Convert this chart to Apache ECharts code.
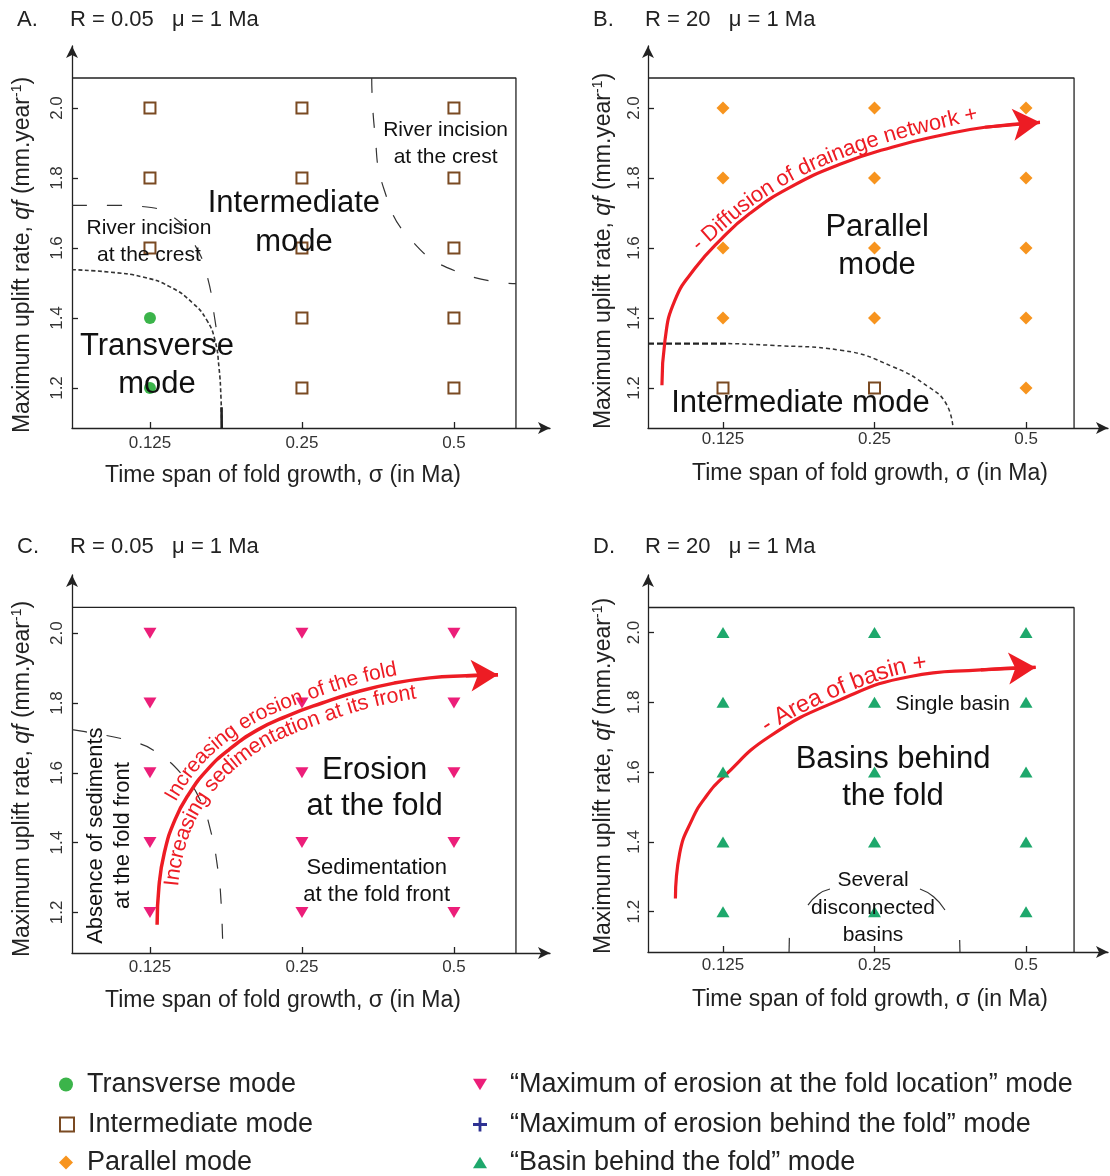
<!DOCTYPE html>
<html><head><meta charset="utf-8">
<script src="https://cdn.jsdelivr.net/npm/echarts@6/dist/echarts.min.js"></script>
<style>html,body{margin:0;padding:0;background:#fff}#c{width:1110px;height:1176px}</style>
</head><body><div id="c"></div>
<script>
// ---------------- DATA ----------------
const sigmaTicks = ['0.125', '0.25', '0.5'];          // time span of fold growth (Ma)
const upliftTicks = [1.2, 1.4, 1.6, 1.8, 2.0];          // max uplift rate (mm/yr)

// Panel A (R = 0.05)
const transverseA = [['0.125', 1.4], ['0.125', 1.2]];
const intermediateA = [['0.125', 2.0], ['0.125', 1.8], ['0.125', 1.6],
  ['0.25', 2.0], ['0.25', 1.8], ['0.25', 1.6], ['0.25', 1.4], ['0.25', 1.2],
  ['0.5', 2.0], ['0.5', 1.8], ['0.5', 1.6], ['0.5', 1.4], ['0.5', 1.2]];
// Panel B (R = 20)
const parallelB = [['0.125', 2.0], ['0.125', 1.8], ['0.125', 1.6], ['0.125', 1.4],
  ['0.25', 2.0], ['0.25', 1.8], ['0.25', 1.6], ['0.25', 1.4],
  ['0.5', 2.0], ['0.5', 1.8], ['0.5', 1.6], ['0.5', 1.4], ['0.5', 1.2]];
const intermediateB = [['0.125', 1.2], ['0.25', 1.2]];
// Panel C (R = 0.05)
const erosionFoldC = [['0.125', 2.0], ['0.125', 1.8], ['0.125', 1.6], ['0.125', 1.4], ['0.125', 1.2],
  ['0.25', 2.0], ['0.25', 1.8], ['0.25', 1.6], ['0.25', 1.4], ['0.25', 1.2],
  ['0.5', 2.0], ['0.5', 1.8], ['0.5', 1.6], ['0.5', 1.4], ['0.5', 1.2]];
// Panel D (R = 20)
const basinBehindD = [['0.125', 2.0], ['0.125', 1.8], ['0.125', 1.6], ['0.125', 1.4], ['0.125', 1.2],
  ['0.25', 2.0], ['0.25', 1.8], ['0.25', 1.6], ['0.25', 1.4], ['0.25', 1.2],
  ['0.5', 2.0], ['0.5', 1.8], ['0.5', 1.6], ['0.5', 1.4], ['0.5', 1.2]];
const erosionBehind = [];

// Domain boundaries (x in sigma-tick index units, y in mm/yr)
const boundA_dotted = [[-0.513,1.538],[-0.263,1.531],[-0.046,1.517],[0.132,1.489],[0.283,1.442],[0.375,1.393],[0.428,1.336],[0.454,1.259],[0.467,1.174],[0.472,1.0857]];
const boundA_foot = [[0.471,1.145],[0.472,1.0857]];
const boundA_left = [[-0.513,1.722],[-0.243,1.722],[-0.066,1.719],[0.164,1.685],[0.296,1.608],[0.375,1.522],[0.428,1.393],[0.454,1.307]];
const boundA_right = [[1.459,2.0857],[1.478,1.936],[1.542,1.765],[1.72,1.622],[2.028,1.531],[2.408,1.498]];
const boundB_thick = [[-0.495,1.327],[0.035,1.327]];
const boundB_dotted = [[0.035,1.327],[0.313,1.322],[0.777,1.308],[1.125,1.26],[1.357,1.203],[1.473,1.155],[1.518,1.0857]];
const boundC = [[-0.513,1.724],[-0.428,1.718],[-0.112,1.689],[0.046,1.658],[0.230,1.586],[0.329,1.523],[0.401,1.431],[0.447,1.322],[0.467,1.236],[0.480,1.0837]];
const boundD_segs = [
  [[0.436,1.0845],[0.438,1.125]],
  [[0.561,1.219],[0.63,1.25],[0.706,1.265]],
  [[1.30,1.265],[1.39,1.243],[1.465,1.205]],
  [[1.562,1.119],[1.564,1.0845]]
];
// Trend arrows (last point = arrow tip)
const arrowB = [[-0.403,1.208],[-0.383,1.336],[-0.317,1.451],[-0.185,1.542],[-0.020,1.622],[0.178,1.699],[0.442,1.773],[0.772,1.839],[1.116,1.888],[1.439,1.922],[1.729,1.945],[2.092,1.959]];
const arrowC = [[0.047,1.165],[0.059,1.274],[0.094,1.370],[0.165,1.466],[0.260,1.542],[0.378,1.609],[0.519,1.666],[0.708,1.723],[0.897,1.762],[1.133,1.80],[1.370,1.833],[1.606,1.857],[1.842,1.872],[2.078,1.878],[2.29,1.881]];
const arrowD = [[-0.314,1.238],[-0.286,1.367],[-0.205,1.463],[-0.112,1.530],[0.005,1.587],[0.307,1.702],[0.772,1.807],[1.237,1.874],[1.702,1.893],[2.063,1.90]];
// baseline of the label written along the panel-B arrow
const textPathB = [[-0.185,1.602],[-0.02,1.665],[0.178,1.736],[0.442,1.808],[0.772,1.873],[1.102,1.922],[1.432,1.959],[1.729,1.988],[1.9,2.0]];

// ---------------- STYLE / LAYOUT ----------------
const FONT = '"Liberation Sans", Arial, Helvetica, sans-serif';
const INK = '#222222';
const RED = '#ED1C24';
const panels = [
  {letter:'A.', sub:'R = 0.05   \u03bc = 1 Ma', lx:17, sx:70, ty:9,  grid:{left:72, top:46, width:478, height:382}, x:[-0.513,2.632], y:[1.0857,2.1771], box:[2.408,2.0857], xGap:36, xPad:56, yGap:36, yPad:36, xLM:7, yLM:6},
  {letter:'B.', sub:'R = 20   \u03bc = 1 Ma',   lx:593, sx:645, ty:9, grid:{left:648, top:46, width:460, height:382}, x:[-0.495,2.541], y:[1.0857,2.1771], box:[2.317,2.0857], xGap:34, xPad:16, yGap:31, yPad:28, xLM:3, yLM:5},
  {letter:'C.', sub:'R = 0.05   \u03bc = 1 Ma', lx:17, sx:70, ty:536, grid:{left:72, top:575, width:478, height:378}, x:[-0.513,2.632], y:[1.0837,1.0837+378/349], box:[2.408,2.074], xGap:36, xPad:56, yGap:36, yPad:30, xLM:6, yLM:6},
  {letter:'D.', sub:'R = 20   \u03bc = 1 Ma',   lx:593, sx:645, ty:536, grid:{left:648, top:575, width:460, height:377}, x:[-0.495,2.541], y:[1.0845,1.0845+377/349], box:[2.317,2.0716], xGap:36, xPad:16, yGap:31, yPad:25, xLM:5, yLM:5}
];

const toXY = d => [sigmaTicks.indexOf(d[0]), d[1]];

const NAMES = {
  tr: 'Transverse mode',
  im: 'Intermediate mode',
  pa: 'Parallel mode',
  ef: '\u201cMaximum of erosion at the fold location\u201d mode',
  eb: '\u201cMaximum of erosion behind the fold\u201d mode',
  bb: '\u201cBasin behind the fold\u201d mode'
};
const SYM = {
  tr: {symbol:'circle', symbolSize:12, itemStyle:{color:'#3BB44A', opacity:1}},
  im: {symbol:'rect', symbolSize:11, itemStyle:{color:'#ffffff', borderColor:'#7A4A22', borderWidth:2, opacity:1}},
  pa: {symbol:'diamond', symbolSize:13, itemStyle:{color:'#F7941E', opacity:1}},
  ef: {symbol:'path://M0,0L12,0L6,10Z', symbolSize:[13,11], itemStyle:{color:'#EC1E79', opacity:1}},
  eb: {symbol:'path://M4,0H6V4H10V6H6V10H4V6H0V4H4Z', symbolSize:12, itemStyle:{color:'#2E3192', opacity:1}},
  bb: {symbol:'path://M6,0L12,10L0,10Z', symbolSize:[13,11], itemStyle:{color:'#1EA86C', opacity:1}}
};
function markers(key, data, gi) {
  return Object.assign({type:'scatter', name:NAMES[key], xAxisIndex:gi, yAxisIndex:gi, data:data.map(toXY), z:4, silent:true}, SYM[key]);
}
function curve(data, gi, ls, smooth) {
  return {type:'line', xAxisIndex:gi, yAxisIndex:gi, data, symbol:'none', smooth: smooth === undefined ? true : smooth, silent:true, z:2, lineStyle:ls};
}
function arrow(data, gi, w) {
  const n = data.length;
  return {type:'line', xAxisIndex:gi, yAxisIndex:gi, data, symbol:'none', smooth:true, silent:true, z:3,
    lineStyle:{color:RED, width:w},
    markLine:{silent:true, symbol:['none','arrow'], symbolSize:[24,27], label:{show:false},
      lineStyle:{color:RED, width:w, type:'solid'},
      data:[[{coord:data[n-2]},{coord:data[n-1]}]]}};
}
function notes(gi, list) {
  return {type:'scatter', xAxisIndex:gi, yAxisIndex:gi, symbolSize:0, silent:true, z:6, itemStyle:{opacity:1, color:'transparent'},
    data: list.map(n => ({value:[n.x, n.y], label:{show:true, position:'inside', formatter:n.t, fontSize:n.s, lineHeight:n.lh || n.s*1.25,
      color:n.c || '#111111', opacity:1, textBorderWidth:0, textBorderColor:'transparent', fontFamily:FONT, align:'center', verticalAlign:'middle', rotate:n.r || 0}}))};
}

const grids = [], xAxes = [], yAxes = [], titles = [];
panels.forEach((p, i) => {
  grids.push(Object.assign({containLabel:false, outerBoundsMode:'none'}, p.grid));
  titles.push({text:p.letter, left:p.lx, top:p.ty, padding:0, textStyle:{fontSize:22, fontWeight:'normal', color:INK, fontFamily:FONT}});
  titles.push({text:p.sub, left:p.sx, top:p.ty, padding:0, textStyle:{fontSize:22, fontWeight:'normal', color:INK, fontFamily:FONT}});
  const axLine = {show:true, onZero:false, symbol:['none','arrow'], symbolSize:[9,12], lineStyle:{color:INK, width:1.3}};
  xAxes.push({type:'value', gridIndex:i, min:p.x[0], max:p.x[1], position:'bottom',
    axisLine:axLine,
    axisTick:{show:true, inside:true, length:6, customValues:[0,1,2], lineStyle:{color:INK, width:1.3}},
    axisLabel:{show:true, customValues:[0,1,2], formatter:v => sigmaTicks[Math.round(v)], fontSize:17, color:'#333333', margin:p.xLM, fontFamily:FONT},
    splitLine:{show:false},
    name:'Time span of fold growth, \u03c3 (in Ma)', nameLocation:'middle', nameGap:p.xGap, nameMoveOverlap:false,
    nameTextStyle:{fontSize:23, color:INK, fontFamily:FONT, padding:[0,p.xPad,0,0]}});
  yAxes.push({type:'value', gridIndex:i, min:p.y[0], max:p.y[1],
    axisLine:axLine,
    axisTick:{show:true, inside:true, length:6, customValues:upliftTicks, lineStyle:{color:INK, width:1.3}},
    axisLabel:{show:true, customValues:upliftTicks, formatter:v => v.toFixed(1), rotate:90, fontSize:17, color:'#333333', margin:p.yLM, fontFamily:FONT},
    splitLine:{show:false},
    name:'Maximum uplift rate, {i|qf} (mm.year{s|-1})', nameLocation:'middle', nameGap:p.yGap, nameRotate:90, nameMoveOverlap:false,
    nameTextStyle:{fontSize:23, color:INK, fontFamily:FONT, padding:[0,p.yPad,0,0],
      rich:{i:{fontSize:23, fontStyle:'italic', color:INK, fontFamily:FONT}, s:{fontSize:14, color:INK, fontFamily:FONT, padding:[0,0,12,0]}}}});
});

const series = [];
// frames (top & right edges of each plot box)
panels.forEach((p, i) => {
  series.push(curve([[p.x[0], p.box[1]], [p.box[0], p.box[1]], [p.box[0], p.y[0]]], i, {color:INK, width:1.3}, false));
});
// boundaries
const longDash = {color:'#333', width:1.2, type:[15,20]};
series.push(curve(boundA_dotted, 0, {color:'#333', width:1.6, type:[4,2.5]}));
series.push(curve(boundA_foot, 0, {color:'#222', width:2.6}, false));
series.push(curve(boundA_left, 0, longDash));
series.push(curve(boundA_right, 0, longDash));
series.push(curve(boundB_thick, 1, {color:'#222', width:2.2, type:[6,3]}, false));
series.push(curve(boundB_dotted, 1, {color:'#333', width:1.5, type:[4,3]}));
series.push(curve(boundC, 2, longDash));
boundD_segs.forEach(s => series.push(curve(s, 3, {color:'#333', width:1.2})));
// arrows
series.push(arrow(arrowB, 1, 3.2));
series.push(arrow(arrowC, 2, 3.5));
series.push(arrow(arrowD, 3, 3.2));
// markers
series.push(markers('tr', transverseA, 0));
series.push(markers('im', intermediateA, 0));
series.push(markers('pa', parallelB, 1));
series.push(markers('im', intermediateB, 1));
series.push(markers('ef', erosionFoldC, 2));
series.push(markers('eb', erosionBehind, 3));
series.push(markers('bb', basinBehindD, 3));
// annotations
series.push(notes(0, [
  {t:'Intermediate\nmode', x:0.947, y:1.671, s:31, lh:39},
  {t:'River incision\nat the crest', x:1.945, y:1.898, s:21, lh:27},
  {t:'River incision\nat the crest', x:-0.007, y:1.617, s:21, lh:27},
  {t:'Transverse\nmode', x:0.046, y:1.263, s:31, lh:38}
]));
series.push(notes(1, [
  {t:'Parallel\nmode', x:1.017, y:1.605, s:31, lh:38},
  {t:'Intermediate mode', x:0.511, y:1.155, s:31}
]));
series.push(notes(2, [
  {t:'Absence of sediments\nat the fold front', x:-0.265, y:1.420, s:22, lh:27, r:90},
  {t:'Erosion\nat the fold', x:1.478, y:1.554, s:31, lh:36},
  {t:'Sedimentation\nat the fold front', x:1.492, y:1.289, s:22, lh:27}
]));
series.push(notes(3, [
  {t:'Single basin', x:1.516, y:1.794, s:21},
  {t:'Basins behind\nthe fold', x:1.122, y:1.582, s:31, lh:37},
  {t:'Several\ndisconnected\nbasins', x:0.99, y:1.211, s:21, lh:27.5}
]));

// one legend per entry so the two columns keep their positions
const legendRows = [
  {n:NAMES.tr, left:59, top:1071, pad:9},
  {n:NAMES.im, left:59, top:1111, pad:9},
  {n:NAMES.pa, left:59, top:1149, pad:9},
  {n:NAMES.ef, left:473, top:1071, pad:18},
  {n:NAMES.eb, left:473, top:1111, pad:18},
  {n:NAMES.bb, left:473, top:1149, pad:18}
];
const legends = legendRows.map(r => ({orient:'horizontal', left:r.left, top:r.top, padding:0, itemWidth:14, itemHeight:14, selectedMode:false,
  data:[r.n], textStyle:{fontSize:27, color:INK, fontFamily:FONT, padding:[0,0,0,r.pad]}}));

const option = {
  animation:false,
  backgroundColor:'#ffffff',
  title:titles,
  grid:grids, xAxis:xAxes, yAxis:yAxes,
  legend:legends,
  series
};
const chart = echarts.init(document.getElementById('c'));
chart.setOption(option);

// -------- text along the trend arrows --------
function curvedText(spec) {
  const px = spec.path.map(p => chart.convertToPixel({gridIndex: spec.grid}, p));
  const dense = [];
  for (let i = 0; i < px.length - 1; i++) {
    const p0 = px[Math.max(0, i-1)], p1 = px[i], p2 = px[i+1], p3 = px[Math.min(px.length-1, i+2)];
    for (let k = 0; k < 20; k++) {
      const t = k/20, t2 = t*t, t3 = t2*t;
      const f = j => 0.5*(2*p1[j] + (-p0[j]+p2[j])*t + (2*p0[j]-5*p1[j]+4*p2[j]-p3[j])*t2 + (-p0[j]+3*p1[j]-3*p2[j]+p3[j])*t3);
      dense.push([f(0), f(1)]);
    }
  }
  dense.push(px[px.length-1]);
  const off = dense.map((p, i) => {
    const a = dense[Math.max(0, i-1)], b = dense[Math.min(dense.length-1, i+1)];
    let dx = b[0]-a[0], dy = b[1]-a[1]; const L = Math.hypot(dx, dy) || 1; dx /= L; dy /= L;
    return [p[0] + dy*spec.offset, p[1] - dx*spec.offset];
  });
  const cum = [0];
  for (let i = 1; i < off.length; i++) cum.push(cum[i-1] + Math.hypot(off[i][0]-off[i-1][0], off[i][1]-off[i-1][1]));
  const total = cum[cum.length-1];
  const at = s => {
    s = Math.max(0, Math.min(total, s));
    let i = 0; while (i < cum.length-2 && cum[i+1] < s) i++;
    const seg = cum[i+1]-cum[i] || 1, t = (s-cum[i])/seg;
    return [off[i][0] + (off[i+1][0]-off[i][0])*t, off[i][1] + (off[i+1][1]-off[i][1])*t];
  };
  const sp = chart.convertToPixel({gridIndex: spec.grid}, spec.start);
  let best = 0, bd = Infinity;
  off.forEach((p, i) => { const d = Math.hypot(p[0]-sp[0], p[1]-sp[1]); if (d < bd) { bd = d; best = i; } });
  let s = cum[best];
  const font = spec.size + 'px ' + FONT;
  const ctx = document.createElement('canvas').getContext('2d');
  ctx.font = font;
  const els = [];
  for (const ch of spec.text) {
    const w = ctx.measureText(ch).width;
    const sc = s + w/2;
    const a = at(sc-5), b = at(sc+5), c = at(sc);
    const ang = Math.atan2(-(b[1]-a[1]), b[0]-a[0]);
    els.push({type:'text', x:c[0], y:c[1], rotation:ang, silent:true, z:100,
      style:{text:ch, font, fill:RED, align:'center', verticalAlign:'middle', textAlign:'center', textVerticalAlign:'middle'}});
    s += w;
  }
  return els;
}
const curvedSpecs = [
  {grid:1, path:textPathB, text:'- Diffusion of drainage network +', start:textPathB[0], offset:0, size:22},
  {grid:2, path:arrowC, text:'Increasing erosion of the fold', start:[0.19,1.51], offset:13, size:21},
  {grid:2, path:arrowC, text:'Increasing sedimentation at its front', start:[0.13,1.274], offset:-13, size:21.5},
  {grid:3, path:arrowD, text:'- Area of basin +', start:[0.29,1.72], offset:11, size:24}
];
let gEls = [];
curvedSpecs.forEach(sp => { gEls = gEls.concat(curvedText(sp)); });
chart.setOption({graphic:{elements:gEls}});
</script>
</body></html>
